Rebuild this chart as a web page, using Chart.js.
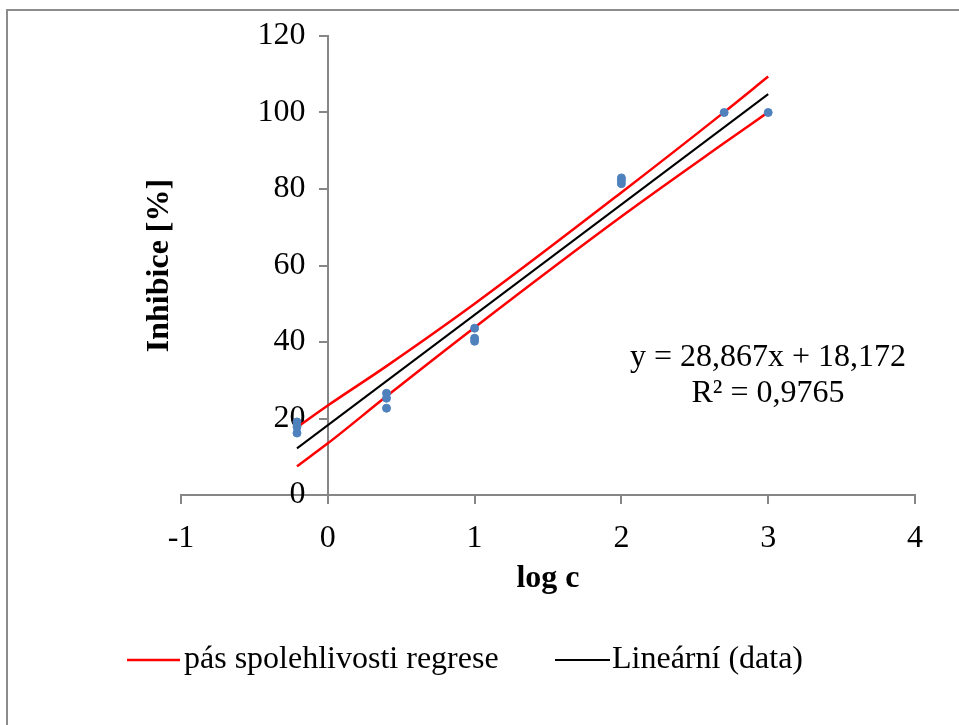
<!DOCTYPE html>
<html>
<head>
<meta charset="utf-8">
<script src="https://cdn.jsdelivr.net/npm/chart.js@4.4.1/dist/chart.umd.min.js"></script>
<style>
  html, body { margin: 0; padding: 0; background: #fff; overflow: hidden; }
  #wrap { position: relative; width: 959px; height: 725px; }
  #frame { position: absolute; left: 6px; top: 9px; width: 1200px; height: 1200px;
           border-left: 2px solid #8c8c8c; border-top: 2px solid #8c8c8c; box-sizing: border-box; }
  canvas { position: absolute; left: 0; top: 0; }
</style>
</head>
<body>
<div id="wrap">
  <div id="frame"></div>
  <canvas id="c" width="959" height="725"></canvas>
</div>
<script>
// ---- data ----
const logC       = [-0.21, -0.21, -0.21, 0.4, 0.4, 0.4, 1, 1, 1, 2, 2, 2, 2.7, 3];
const inhibition = [19.1, 17.8, 16.2, 26.6, 25.3, 22.7, 43.6, 41.0, 40.2, 82.9, 82.2, 81.4, 100, 100];

const bandX      = [-0.21, 0, 0.4, 1, 2, 2.7, 3];
const bandUpper  = [17.7, 23.4, 33.7, 50.0, 79.1, 100.1, 109.4];
const bandLower  = [7.5, 13.5, 25.8, 43.8, 72.8, 92.0, 100.1];

const trendX     = [-0.21, 3];
const trendY     = [12.2, 104.8];

const xTicks = [-1, 0, 1, 2, 3, 4];
const yTicks = [0, 20, 40, 60, 80, 100, 120];

const xTitle = 'log c';
const yTitle = 'Inhibice [%]';
const eqLines = ['y = 28,867x + 18,172', 'R² = 0,9765'];
const legendBand = 'pás spolehlivosti regrese';
const legendTrend = 'Lineární (data)';

const FONT = '"Liberation Serif", "Times New Roman", serif';
const FS = 32;
const toPts = (xs, ys) => xs.map((x, i) => ({ x, y: ys[i] }));

const textPlugin = {
  id: 'texts',
  afterDraw(chart) {
    const ctx = chart.ctx;
    const ca = chart.chartArea;
    ctx.save();
    ctx.fillStyle = '#000';
    // axis titles
    ctx.font = 'bold ' + FS + 'px ' + FONT;
    ctx.textAlign = 'center';
    ctx.textBaseline = 'middle';
    ctx.fillText(xTitle, (ca.left + ca.right) / 2, 579);
    ctx.save();
    ctx.translate(160, (ca.top + ca.bottom) / 2);
    ctx.rotate(-Math.PI / 2);
    ctx.fillText(yTitle, 0, 0);
    ctx.restore();
    // equation
    ctx.font = FS + 'px ' + FONT;
    ctx.fillText(eqLines[0], 768, 358);
    ctx.fillText(eqLines[1], 768, 394);
    // legend
    const ly = 660;
    ctx.lineWidth = 2.5;
    ctx.strokeStyle = '#ff0000';
    ctx.beginPath(); ctx.moveTo(127, ly); ctx.lineTo(180, ly); ctx.stroke();
    ctx.lineWidth = 2;
    ctx.strokeStyle = '#000';
    ctx.beginPath(); ctx.moveTo(555, ly); ctx.lineTo(610, ly); ctx.stroke();
    ctx.textAlign = 'left';
    ctx.fillText(legendBand, 184, ly);
    ctx.fillText(legendTrend, 612, ly);
    ctx.restore();
  }
};

new Chart(document.getElementById('c'), {
  type: 'scatter',
  data: {
    datasets: [
      { label: 'data', data: toPts(logC, inhibition), backgroundColor: '#4f81bd', borderColor: '#4f81bd',
        pointRadius: 4, pointHoverRadius: 4, showLine: false, order: 0 },
      { label: legendTrend, data: toPts(trendX, trendY), showLine: true, borderColor: '#000', borderWidth: 2,
        pointRadius: 0, order: 2 },
      { label: legendBand, data: toPts(bandX, bandUpper), showLine: true, borderColor: '#ff0000', borderWidth: 2.5,
        pointRadius: 0, cubicInterpolationMode: 'monotone', order: 1 },
      { label: legendBand + ' (dolní)', data: toPts(bandX, bandLower), showLine: true, borderColor: '#ff0000', borderWidth: 2.5,
        pointRadius: 0, cubicInterpolationMode: 'monotone', order: 1 }
    ]
  },
  options: {
    responsive: false,
    animation: false,
    layout: { padding: { left: 181, right: 44, top: 36, bottom: 230 } },
    plugins: { legend: { display: false }, tooltip: { enabled: false } },
    scales: {
      x: {
        type: 'linear', min: -1, max: 4, position: { y: 0 },
        afterBuildTicks: (s) => { s.ticks = xTicks.map(v => ({ value: v })); },
        ticks: { color: '#000', font: { family: FONT, size: FS }, padding: 16 },
        grid: { drawOnChartArea: false, drawTicks: true, tickLength: 8, color: '#868686', lineWidth: 2 },
        border: { color: '#868686', width: 2 }
      },
      y: {
        type: 'linear', min: 0, max: 120, position: { x: 0 },
        afterBuildTicks: (s) => { s.ticks = yTicks.map(v => ({ value: v })); },
        ticks: { color: '#000', font: { family: FONT, size: FS },
                 callback: (v) => String(v) + '\u2002\u2009' },
        grid: { drawOnChartArea: false, drawTicks: true, tickLength: 8, color: '#868686', lineWidth: 2 },
        border: { color: '#868686', width: 2 }
      }
    }
  },
  plugins: [textPlugin]
});
</script>
</body>
</html>
